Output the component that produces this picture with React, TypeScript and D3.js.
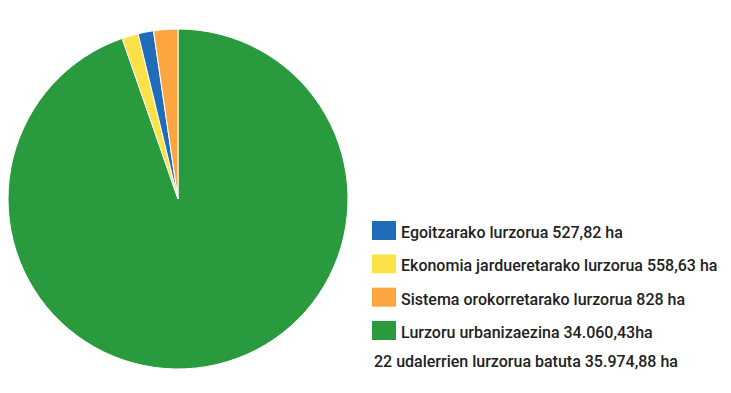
import React from "react";
import * as d3 from "d3";

const categories = [
  "Lurzoru urbanizaezina",
  "Ekonomia jardueretarako lurzorua",
  "Egoitzarako lurzorua",
  "Sistema orokorretarako lurzorua",
];
const values = [34060.43, 558.63, 527.82, 828];
const colors = ["#2a9a3f", "#fde247", "#1f6cb9", "#fda541"];

const legendLabels = [
  "Egoitzarako lurzorua 527,82 ha",
  "Ekonomia jardueretarako lurzorua 558,63 ha",
  "Sistema orokorretarako lurzorua 828 ha",
  "Lurzoru urbanizaezina 34.060,43ha",
];
const legendColors = ["#1f6cb9", "#fde247", "#fda541", "#2a9a3f"];
const totalLabel = "22 udalerrien lurzorua batuta 35.974,88 ha";

export default function App() {
  const W = 731, H = 393;
  const cx = 178, cy = 199, r = 170;
  const pie = d3.pie<number>().sort(null).value((d) => d);
  const arcs = pie(values);
  const arc = d3.arc<d3.PieArcDatum<number>>().innerRadius(0).outerRadius(r);
  const legendY = d3.scalePoint<number>().domain(d3.range(legendLabels.length)).range([221, 321]);

  return (
    <svg width={W} height={H} style={{ position: "absolute", left: 0, top: 0 }}>
      <g transform={`translate(${cx},${cy})`}>
        {arcs.map((a, i) => (
          <path key={categories[i]} d={arc(a) || ""} fill={colors[i]} stroke="#fff" strokeWidth={1} />
        ))}
      </g>
      <g fontFamily="Roboto, sans-serif" fontWeight={500} fontSize={16} fill="#222">
        {legendLabels.map((l, i) => (
          <g key={l}>
            <rect x={372} y={legendY(i)} width={24} height={19} fill={legendColors[i]} />
            <text x={401} y={(legendY(i) as number) + 17}>{l}</text>
          </g>
        ))}
        <text x={374} y={367}>{totalLabel}</text>
      </g>
    </svg>
  );
}
